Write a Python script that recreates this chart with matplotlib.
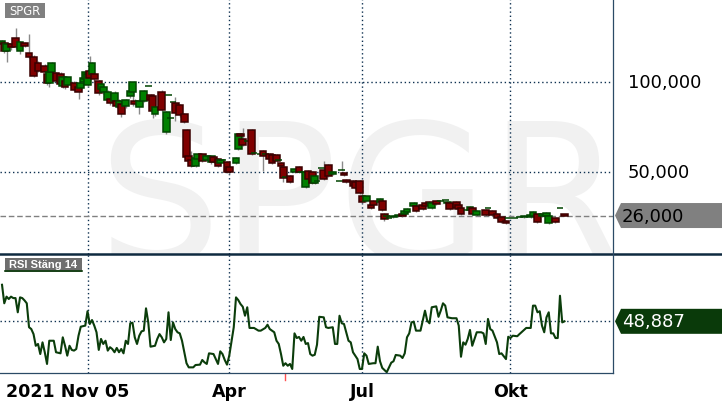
import matplotlib
matplotlib.use("Agg")
import matplotlib.pyplot as plt
from matplotlib.patches import Rectangle, Polygon
from matplotlib.lines import Line2D
from matplotlib.transforms import blended_transform_factory

# ---------------- data ----------------
ticker = "SPGR"
rsi_title = "RSI Stäng 14"

# trading-day index of each candle
day = [0, 1, 2, 4, 6, 8, 10, 12, 14, 16,
       19, 20, 21, 22, 24, 26, 27, 28, 29, 32,
       34, 35, 36, 37, 38, 39, 40, 41, 43, 44,
       45, 47, 48, 50, 51, 52, 53, 55, 57, 58,
       59, 61, 63, 65, 66, 67, 68, 71, 73, 74,
       75, 76, 77, 79, 81, 82, 83, 84, 86, 87,
       89, 91, 93, 94, 96, 97, 98, 100, 101, 104,
       105, 106, 107, 109, 111, 112, 115, 116, 117, 119,
       120, 122, 123, 124, 125, 126, 128, 130, 132, 133,
       135, 136, 138, 139, 140, 142, 143, 145, 147, 150,
       151, 152, 153, 156, 157, 159, 160, 162, 164, 165,
       168, 169, 170, 171, 172, 174, 176, 178, 179, 180,
       183, 184, 187, 188, 190, 191, 193, 195, 197, 198,
       199, 202, 203, 204, 207, 208, 209, 211, 215, 216,
       218, 220, 222, 224, 225, 228, 230, 232, 235, 236,
       238, 240, 242, 243, 246, 248, 250]

opens = [121.3, 121.9, 117.2, 121.3, 124.6, 117.2, 121.9, 116.3, 114.1, 110.7,
         109.1, 104.6, 99.6, 105.7, 105.2, 104.6, 98.0, 100.7, 98.5, 99.6,
         97.4, 96.9, 100.2, 101.8, 98.5, 106.3, 104.6, 104.6, 100.7, 96.3,
         94.6, 90.2, 90.7, 89.6, 89.6, 86.3, 88.0, 86.9, 92.4, 94.6,
         89.6, 86.3, 89.6, 97.8, 92.9, 92.4, 82.4, 94.6, 72.4, 93.0,
         80.2, 89.1, 88.5, 87.4, 82.4, 73.5, 59.1, 56.9, 53.5, 57.4,
         60.2, 56.9, 55.7, 58.5, 57.4, 55.2, 56.9, 55.7, 52.9, 55.2,
         62.9, 71.3, 68.5, 67.4, 73.5, 60.7, 60.2, 61.9, 60.2, 60.2,
         59.6, 59.6, 56.9, 55.2, 53.0, 47.4, 48.0, 50.2, 52.9, 50.2,
         41.9, 50.7, 50.2, 44.1, 45.2, 52.4, 51.3, 54.1, 49.1, 45.2,
         51.3, 49.6, 45.7, 45.2, 44.6, 45.2, 36.9, 34.1, 31.9, 34.1,
         33.5, 34.1, 26.8, 25.7, 24.6, 25.2, 25.7, 26.8, 26.8, 28.0,
         31.3, 31.2, 32.0, 33.0, 33.5, 30.2, 34.1, 34.1, 34.6, 32.9,
         33.0, 33.5, 31.9, 30.2, 29.1, 29.1, 30.2, 26.3, 29.1, 30.2,
         28.5, 26.8, 25.2, 23.0, 24.6, 24.6, 25.2, 25.2, 25.2, 25.7,
         26.8, 25.7, 25.7, 21.8, 24.6, 30.2, 26.6]

highs = [123.5, 122.5, 121.8, 122.0, 130.2, 123.0, 122.5, 126.9, 115.0, 112.0,
         110.0, 105.5, 106.5, 111.5, 106.0, 105.5, 103.5, 101.5, 103.5, 100.5,
         98.0, 100.0, 103.0, 106.5, 105.5, 114.6, 111.5, 105.5, 101.5, 99.8,
         98.0, 95.5, 91.5, 95.0, 90.5, 90.5, 89.0, 91.0, 96.0, 100.2,
         90.5, 90.5, 96.0, 97.8, 93.5, 93.0, 87.0, 95.5, 84.0, 93.0,
         80.2, 89.1, 92.0, 88.0, 83.0, 74.0, 62.0, 62.0, 58.5, 60.8,
         60.8, 59.6, 59.6, 59.0, 58.0, 57.4, 56.9, 56.2, 53.4, 58.5,
         71.8, 71.8, 74.5, 67.4, 74.0, 60.7, 60.2, 62.5, 60.2, 60.7,
         60.1, 60.1, 56.9, 55.7, 53.5, 47.4, 48.5, 52.3, 53.4, 50.2,
         50.7, 51.2, 50.7, 48.5, 45.2, 52.4, 56.5, 54.6, 50.7, 45.2,
         56.5, 50.1, 46.2, 45.7, 45.1, 45.7, 40.0, 37.4, 32.4, 34.6,
         35.7, 34.6, 27.3, 25.7, 24.6, 26.2, 26.8, 27.3, 29.0, 30.1,
         33.5, 31.7, 32.5, 33.5, 34.0, 33.5, 34.6, 34.1, 34.6, 34.0,
         33.5, 34.0, 32.4, 30.7, 29.1, 31.2, 30.7, 29.0, 29.6, 30.2,
         29.0, 27.3, 25.7, 23.5, 24.6, 24.6, 25.2, 26.2, 26.8, 28.5,
         27.3, 27.3, 27.9, 26.2, 25.1, 30.2, 27.0]

lows = [120.5, 116.5, 111.3, 118.0, 118.5, 116.0, 119.5, 113.5, 103.0, 105.5,
        105.0, 98.5, 97.4, 104.5, 99.5, 97.5, 97.0, 96.5, 97.5, 95.0,
        90.7, 96.0, 99.5, 101.0, 97.5, 101.5, 103.0, 101.0, 93.0, 95.5,
        93.5, 89.0, 87.5, 88.5, 86.0, 85.5, 80.7, 86.0, 91.5, 87.0,
        87.0, 82.4, 89.0, 97.8, 89.5, 80.0, 81.5, 84.0, 71.5, 93.0,
        80.2, 89.1, 78.7, 81.0, 77.5, 58.0, 55.5, 53.0, 53.0, 57.0,
        55.8, 56.4, 54.5, 55.0, 53.0, 54.7, 56.9, 49.7, 49.1, 54.7,
        62.4, 69.7, 64.7, 67.4, 59.7, 60.7, 60.2, 50.9, 60.2, 56.9,
        54.7, 55.8, 56.9, 53.0, 44.6, 47.4, 44.1, 49.7, 49.7, 50.2,
        41.4, 45.8, 43.6, 43.6, 45.2, 52.4, 45.8, 47.5, 48.6, 45.2,
        51.3, 48.0, 44.1, 41.9, 40.8, 38.0, 33.0, 33.6, 29.7, 31.4,
        33.0, 28.6, 23.2, 25.7, 24.6, 24.7, 25.2, 25.2, 26.3, 27.5,
        30.8, 28.0, 29.1, 30.8, 31.9, 29.7, 31.9, 34.1, 34.6, 32.4,
        29.1, 29.7, 29.1, 26.3, 29.1, 28.6, 26.3, 25.8, 25.8, 30.2,
        25.8, 24.1, 21.9, 21.3, 24.6, 24.6, 25.2, 24.7, 24.7, 25.2,
        21.9, 25.2, 25.2, 21.3, 21.9, 30.2, 25.8]

closes = [123.0, 117.4, 121.3, 119.6, 119.8, 122.4, 120.2, 114.1, 103.5, 106.3,
          105.7, 99.6, 105.7, 110.7, 100.7, 99.1, 103.0, 97.4, 103.0, 95.7,
          94.6, 99.6, 102.4, 105.7, 104.6, 102.4, 110.7, 101.8, 94.1, 99.1,
          97.4, 94.6, 88.5, 94.1, 86.9, 89.6, 82.4, 90.2, 95.2, 100.2,
          88.0, 89.6, 95.2, 97.8, 90.2, 84.1, 86.3, 84.6, 83.5, 93.0,
          80.2, 89.1, 83.0, 81.9, 78.0, 58.5, 56.3, 53.5, 58.0, 60.2,
          56.3, 59.1, 59.1, 55.7, 53.5, 56.9, 56.9, 50.2, 50.2, 58.0,
          71.3, 70.2, 65.2, 67.4, 60.2, 60.7, 60.2, 59.1, 60.2, 57.4,
          55.2, 56.3, 56.9, 53.5, 46.9, 47.4, 44.6, 51.8, 50.2, 50.2,
          50.2, 46.3, 44.1, 48.0, 45.2, 52.4, 46.3, 48.0, 50.2, 45.2,
          51.3, 48.5, 44.6, 42.4, 41.3, 38.5, 33.5, 36.9, 30.2, 31.9,
          35.2, 29.1, 24.1, 25.7, 24.6, 25.7, 26.3, 25.7, 28.5, 29.6,
          33.0, 28.5, 29.6, 31.3, 32.4, 33.0, 32.4, 34.1, 34.6, 33.5,
          29.6, 30.2, 29.6, 26.8, 29.1, 30.7, 26.8, 28.5, 26.3, 30.2,
          26.3, 24.6, 22.4, 21.8, 24.6, 24.6, 25.2, 25.7, 26.3, 28.0,
          22.4, 26.8, 27.4, 25.7, 22.4, 30.2, 26.0]

rsi_day = [0, 1, 2, 3, 4, 5, 6, 7, 8, 9, 10, 11, 12, 13, 14, 15, 16, 17, 18, 19,
           20, 21, 23, 24, 26, 27, 28, 29, 30, 31, 32, 33, 34, 35, 37, 38, 39, 40, 41, 42,
           43, 44, 45, 46, 47, 48, 49, 50, 51, 52, 53, 54, 55, 56, 57, 58, 59, 60, 61, 62,
           63, 64, 65, 66, 68, 69, 70, 71, 72, 73, 74, 75, 76, 77, 78, 79, 80, 82, 83, 85,
           86, 88, 89, 90, 91, 92, 94, 95, 96, 97, 98, 99, 100, 101, 103, 104, 105, 106, 107, 108,
           109, 110, 112, 114, 115, 117, 118, 119, 121, 122, 123, 124, 125, 126, 127, 128, 129, 130, 131, 132,
           133, 134, 135, 136, 137, 138, 139, 140, 141, 143, 144, 145, 147, 148, 149, 150, 151, 152, 154, 155,
           156, 158, 159, 160, 161, 162, 163, 165, 166, 167, 168, 169, 171, 172, 173, 174, 175, 177, 178, 179,
           180, 181, 182, 183, 184, 186, 188, 189, 190, 191, 193, 194, 195, 196, 197, 198, 200, 202, 203, 204,
           205, 206, 207, 208, 209, 211, 213, 214, 215, 216, 217, 218, 220, 221, 222, 224, 225, 226, 227, 229,
           230, 233, 235, 236, 237, 238, 239, 240, 241, 242, 243, 244, 245, 246, 247, 248, 249, 250]

rsi = [69.2, 58.9, 62.6, 61.3, 62.6, 61.8, 61.8, 53.9, 62.2, 61.8, 60.5, 58.9, 45.6, 44.6, 41.8, 35.3, 36.3, 30.7, 37.2, 31.7,
       25.2, 38.1, 38.1, 31.7, 31.1, 40.0, 35.3, 29.8, 35.3, 33.0, 32.6, 33.5, 40.9, 45.9, 46.5, 54.5, 47.4, 49.6, 46.5, 42.8,
       33.0, 39.1, 36.3, 38.1, 32.6, 34.5, 33.5, 31.7, 34.1, 31.7, 33.5, 31.1, 38.1, 36.3, 47.8, 48.1, 40.0, 36.3, 40.9, 43.3,
       43.7, 56.1, 48.3, 34.8, 35.3, 39.1, 41.8, 40.0, 37.2, 39.1, 53.9, 38.5, 48.3, 44.6, 42.8, 42.2, 38.1, 25.6, 23.3, 23.3,
       24.6, 24.8, 27.4, 26.1, 25.2, 31.1, 30.7, 27.9, 25.2, 32.2, 30.7, 27.4, 24.8, 29.8, 45.6, 62.2, 60.7, 58.5, 57.0, 52.0,
       56.7, 45.2, 45.2, 43.7, 43.7, 45.2, 47.0, 44.6, 42.8, 38.1, 36.3, 30.7, 24.2, 25.6, 24.2, 25.2, 22.4, 42.2, 39.6, 40.2,
       38.1, 40.2, 36.3, 36.8, 30.7, 29.8, 30.3, 35.9, 51.4, 51.1, 45.6, 45.2, 45.6, 36.3, 36.3, 52.0, 47.8, 47.4, 38.1, 37.2,
       31.7, 27.9, 22.4, 22.4, 31.1, 29.8, 25.2, 25.6, 25.6, 34.8, 26.7, 23.0, 20.6, 23.3, 25.9, 26.7, 30.2, 29.8, 28.5, 31.1,
       40.0, 42.2, 48.3, 48.7, 43.7, 43.7, 54.8, 49.2, 47.8, 56.7, 57.2, 51.4, 54.8, 58.9, 57.6, 51.1, 50.6, 50.6, 46.5, 29.2,
       37.2, 35.9, 39.1, 44.1, 35.3, 42.8, 42.8, 42.2, 36.3, 50.2, 44.6, 43.7, 37.2, 30.7, 31.1, 27.9, 40.3, 39.6, 40.9, 40.6,
       41.8, 45.2, 45.2, 57.6, 57.6, 53.9, 54.5, 46.5, 42.8, 51.1, 53.9, 42.2, 42.2, 39.6, 39.6, 63.1, 48.3, 48.887]

tick_day = [38, 101, 160, 226]
tick_label = ["2021 Nov 05", "Apr", "Jul", "Okt"]
price_grid = [100, 50]
event_day = [125.6]

# ---------------- styling / layout ----------------
W, H = 722, 410
GRID = "#0d3050"
BORDER = "#2b4a66"
UP_FC, UP_EC = "#008000", "#004400"
DN_FC, DN_EC = "#800000", "#3a0000"
WICK = "#8a8a8a"
RSI_C = "#0b3d0b"

fig = plt.figure(figsize=(W / 100, H / 100), dpi=100)
fig.patch.set_facecolor("white")


def fx(px):
    return px / W


def fy(py):
    return 1 - py / H


PANEL_R = 613.3
SPLIT = 255.0
RSI_B = 374.3
X0, X1 = -0.9, 271.7
P_LO, P_HI = 4.63, 146.3
R_LO, R_HI = 20.0, 86.3

ax = fig.add_axes([0, fy(SPLIT), fx(PANEL_R), SPLIT / H])
ax.set_xlim(X0, X1)
ax.set_ylim(P_LO, P_HI)
ax.axis("off")

ax2 = fig.add_axes([0, fy(RSI_B), fx(PANEL_R), (RSI_B - SPLIT) / H])
ax2.set_xlim(X0, X1)
ax2.set_ylim(R_LO, R_HI)
ax2.axis("off")

# watermark
wm = ax.text(0.158, -0.03, ticker, transform=ax.transAxes, fontsize=140,
             color="#f1f1f1", ha="left", va="baseline", zorder=0,
             family="DejaVu Sans")
wm.set_clip_on(True)

dots = (0, (1, 2))
for d in tick_day:
    ax.axvline(d, color=GRID, lw=1.0, ls=dots, zorder=1)
    ax2.axvline(d, color=GRID, lw=1.0, ls=dots, zorder=1)
for p in price_grid:
    ax.axhline(p, color=GRID, lw=1.0, ls=dots, zorder=1)

last_close = closes[-1]
ax.axhline(last_close, color="#808080", lw=1.0, ls=(0, (4, 2)), zorder=1)
ax2.axhline(rsi[-1], color=GRID, lw=1.0, ls=dots, zorder=1)

# candles
BW = 3.0
for d, o, h, l, c in zip(day, opens, highs, lows, closes):
    up = c >= o
    if h > l:
        ax.plot([d, d], [l, h], color=WICK, lw=1.0, zorder=2, solid_capstyle="butt")
    ax.add_patch(Rectangle((d - BW / 2, min(o, c)), BW, abs(c - o),
                           facecolor=UP_FC if up else DN_FC,
                           edgecolor=UP_EC if up else DN_EC,
                           lw=1.1, zorder=3))

# RSI line
ax2.plot(rsi_day, rsi, color=RSI_C, lw=1.5, zorder=3)

# borders
fig.add_artist(Line2D([0, 1], [fy(SPLIT), fy(SPLIT)], color="#0f2a40", lw=1.8))
fig.add_artist(Line2D([fx(PANEL_R)] * 2, [fy(RSI_B), 1], color=BORDER, lw=0.9))
fig.add_artist(Line2D([0, fx(PANEL_R)], [fy(RSI_B)] * 2, color=BORDER, lw=0.9))

# event tick below RSI panel
tr_ev = blended_transform_factory(ax2.transData, fig.transFigure)
for e in event_day:
    ax2.plot([e, e], [fy(375), fy(381)], transform=tr_ev, color="#ff5050",
             lw=1.0, clip_on=False)

# x labels
tr_x = blended_transform_factory(ax2.transData, fig.transFigure)
for d, lab in zip(tick_day[1:], tick_label[1:]):
    ax2.text(d, fy(392), lab, transform=tr_x, ha="center", va="center",
             fontsize=12.6, fontweight="bold", color="black", clip_on=False)
fig.text(fx(6), fy(392), tick_label[0], ha="left", va="center",
         fontsize=12.6, fontweight="bold", color="black")


def fmt(v):
    return f"{v:.3f}".replace(".", ",")


# right-hand price labels
tr_p = blended_transform_factory(fig.transFigure, ax.transData)
for p in price_grid:
    fig.text(fx(628), p, fmt(p), transform=tr_p, ha="left", va="center",
             fontsize=13, color="black")


def tag(ax_, value, fc, tc):
    y_ax = ax_.transData.transform((0, value))[1]
    yc = H - y_ax  # pixel from top
    pts = [(615, yc), (621, yc - 12.5), (722, yc - 12.5), (722, yc + 12.5), (621, yc + 12.5)]
    fig.add_artist(Polygon([(fx(a), fy(b)) for a, b in pts], closed=True,
                           transform=fig.transFigure, facecolor=fc, edgecolor="none"))
    fig.text(fx(622), fy(yc), fmt(value), ha="left", va="center", fontsize=13, color=tc)


tag(ax, last_close, "#808080", "black")
tag(ax2, rsi[-1], "#0a3a0a", "white")

# title boxes
fig.add_artist(Rectangle((fx(5), fy(19.3)), fx(39.7), 15 / H, transform=fig.transFigure,
                         facecolor="#808080", edgecolor="none"))
fig.text(fx(25), fy(11.8), ticker, ha="center", va="center", fontsize=8.3, color="white")

fig.add_artist(Rectangle((fx(5), fy(272.5)), fx(76.7), 13.5 / H, transform=fig.transFigure,
                         facecolor="#6e6e6e", edgecolor="none"))
fig.add_artist(Line2D([fx(5), fx(81.7)], [fy(271.6)] * 2, color="#0a3a0a", lw=1.2))
fig.text(fx(43.3), fy(265.2), rsi_title, ha="center", va="center", fontsize=8,
         fontweight="bold", color="white", family=["Liberation Sans", "DejaVu Sans"])

fig.savefig("out.png", dpi=100)
